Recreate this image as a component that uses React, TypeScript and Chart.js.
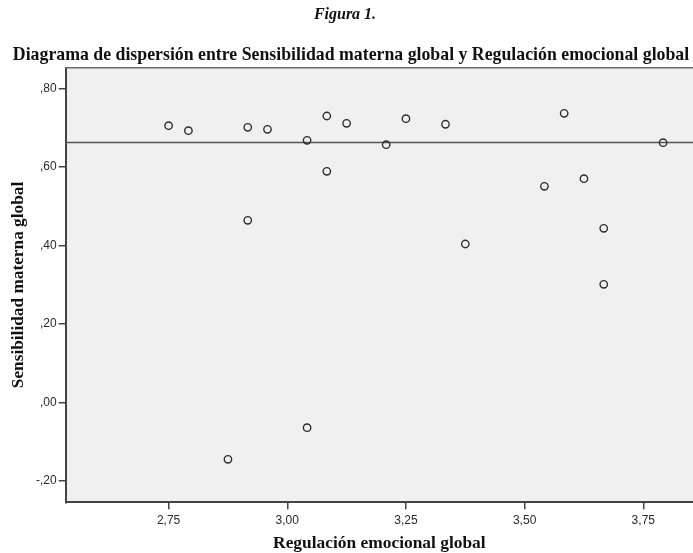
import { useEffect, useRef } from "react";
import { Chart, registerables } from "chart.js";

Chart.register(...registerables);

// Regulación emocional global (x) for each case
const regulacion = [
  2.75, 2.7917, 2.9167, 2.9583, 3.0417, 3.0833, 3.125, 3.2083, 3.25, 3.3333, 3.5833, 3.7917,
  3.0833, 2.9167, 3.375, 3.5417, 3.625, 3.6667, 3.6667, 3.0417, 2.875,
];
// Sensibilidad materna global (y) for each case
const sensibilidad = [
  0.7057, 0.693, 0.7016, 0.6965, 0.6685, 0.7304, 0.7118, 0.6573, 0.7235, 0.7093, 0.7373, 0.6624,
  0.5894, 0.4645, 0.4041, 0.5512, 0.5706, 0.4441, 0.3014, -0.0641, -0.1447,
];

const referenceLevel = [0.663];
const xRange = [2.5332, 3.8547];
const yRange = [-0.2543, 0.8535];

const xTickValues = [2.75, 3.0, 3.25, 3.5, 3.75];
const xTickLabels = ["2,75", "3,00", "3,25", "3,50", "3,75"];
const yTickValues = [-0.2, 0, 0.2, 0.4, 0.6, 0.8];
const yTickLabels = ["-,20", ",00", ",20", ",40", ",60", ",80"];

const figureLabel = "Figura 1.";
const chartTitle =
  "Diagrama de dispersión entre Sensibilidad materna global y Regulación emocional global";
const xTitle = "Regulación emocional global";
const yTitle = "Sensibilidad materna global";

const W = 693;
const H = 553;

export default function App() {
  const ref = useRef<HTMLCanvasElement | null>(null);

  useEffect(() => {
    if (!ref.current) return;

    const frame = {
      id: "spssFrame",
      beforeDraw(chart: any) {
        const { ctx, chartArea } = chart;
        ctx.save();
        ctx.fillStyle = "#ffffff";
        ctx.fillRect(0, 0, chart.width, chart.height);
        ctx.fillStyle = "#f0f0f0";
        ctx.fillRect(
          chartArea.left,
          chartArea.top,
          chartArea.right - chartArea.left,
          chartArea.bottom - chartArea.top
        );
        ctx.restore();
      },
      afterDraw(chart: any) {
        const { ctx, chartArea } = chart;
        ctx.save();
        ctx.strokeStyle = "#6a6a6a";
        ctx.lineWidth = 1.5;
        ctx.beginPath();
        ctx.moveTo(chartArea.left, chartArea.top);
        ctx.lineTo(chartArea.right, chartArea.top);
        ctx.stroke();

        ctx.fillStyle = "#111111";
        ctx.textAlign = "center";
        ctx.textBaseline = "alphabetic";
        ctx.font = "italic bold 16px 'Liberation Serif'";
        ctx.fillText(figureLabel, 345, 19);
        ctx.font = "bold 17.8px 'Liberation Serif'";
        ctx.fillText(chartTitle, 351, 60);
        ctx.restore();
      },
    };

    const chart = new Chart(ref.current, {
      type: "scatter",
      data: {
        datasets: [
          {
            type: "scatter",
            data: regulacion.map((x, i) => ({ x, y: sensibilidad[i] })),
            pointStyle: "circle",
            pointRadius: 3.7,
            pointBorderWidth: 1.4,
            borderColor: "#2e2e2e",
            backgroundColor: "rgba(0,0,0,0)",
          },
          {
            type: "line",
            data: [
              { x: xRange[0], y: referenceLevel[0] },
              { x: xRange[1], y: referenceLevel[0] },
            ],
            borderColor: "#555555",
            borderWidth: 1.5,
            pointRadius: 0,
            fill: false,
          } as any,
        ],
      },
      options: {
        responsive: false,
        animation: false,
        devicePixelRatio: 1,
        layout: { autoPadding: false, padding: { top: 67.7, left: 0, right: 0, bottom: 0 } },
        plugins: {
          legend: { display: false },
          tooltip: { enabled: false },
          title: { display: false },
        },
        scales: {
          x: {
            type: "linear",
            position: "bottom",
            min: xRange[0],
            max: xRange[1],
            afterBuildTicks: (scale: any) => {
              scale.ticks = xTickValues.map((v) => ({ value: v }));
            },
            afterFit: (scale: any) => {
              scale.height = 50.7;
              scale.paddingLeft = 0;
              scale.paddingRight = 0;
            },
            grid: {
              display: true,
              drawOnChartArea: false,
              drawTicks: true,
              tickLength: 7,
              color: "#444444",
              lineWidth: 1.5,
            },
            border: { display: true, color: "#444444", width: 2 },
            ticks: {
              font: { family: "'Liberation Sans'", size: 12 },
              color: "#2a2a2a",
              padding: 4,
              callback: (v: any) => xTickLabels[xTickValues.indexOf(Number(v))],
            },
            title: {
              display: true,
              text: xTitle,
              color: "#111111",
              font: { family: "'Liberation Serif'", size: 17.4, weight: "bold", lineHeight: 1 },
              padding: { top: 0, bottom: 0.5 },
            },
          },
          y: {
            type: "linear",
            position: "left",
            min: yRange[0],
            max: yRange[1],
            afterBuildTicks: (scale: any) => {
              scale.ticks = yTickValues.map((v) => ({ value: v }));
            },
            afterFit: (scale: any) => {
              scale.width = 65.7;
              scale.paddingTop = 0;
              scale.paddingBottom = 0;
            },
            grid: {
              display: true,
              drawOnChartArea: false,
              drawTicks: true,
              tickLength: 7,
              color: "#444444",
              lineWidth: 1.5,
            },
            border: { display: true, color: "#444444", width: 2 },
            ticks: {
              font: { family: "'Liberation Sans'", size: 12 },
              color: "#2a2a2a",
              padding: 2,
              callback: (v: any) => yTickLabels[yTickValues.indexOf(Number(v))],
            },
            title: {
              display: true,
              text: yTitle,
              color: "#111111",
              font: { family: "'Liberation Serif'", size: 17.3, weight: "bold", lineHeight: 1 },
              padding: { top: 9.8, bottom: 0 },
            },
          },
        },
      },
      plugins: [frame],
    });

    return () => chart.destroy();
  }, []);

  return (
    <div style={{ position: "fixed", left: 0, top: 0, width: W, height: H, background: "#fff" }}>
      <canvas ref={ref} width={W} height={H} style={{ display: "block", width: W, height: H }} />
    </div>
  );
}
